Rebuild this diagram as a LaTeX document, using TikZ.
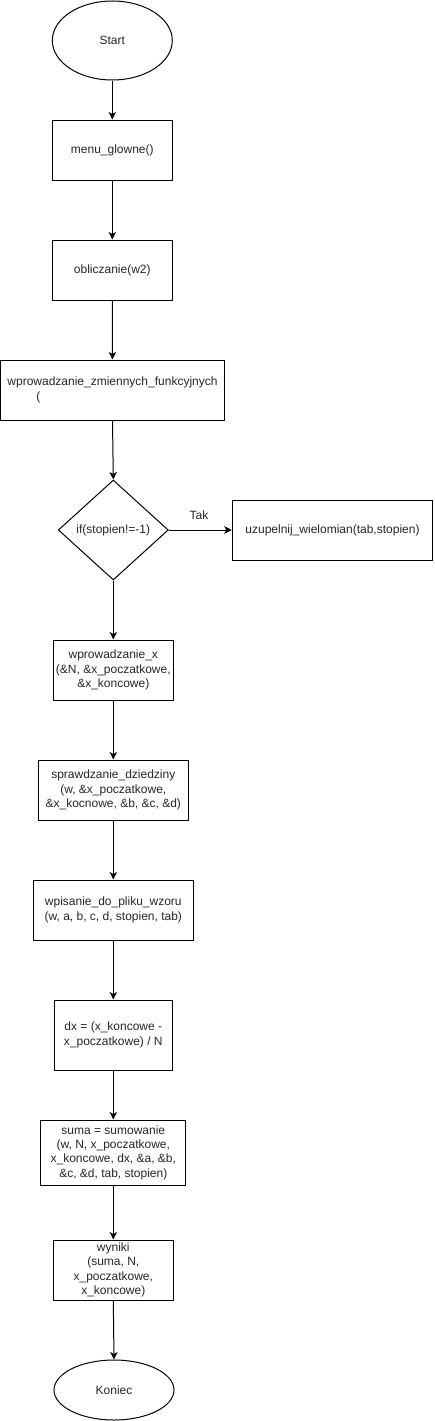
\documentclass[tikz,border=0pt]{standalone}
\usepackage{fontspec}
\setmainfont{Liberation Sans}
\usetikzlibrary{shapes.geometric,arrows.meta}
\begin{document}
\begin{tikzpicture}[x=1pt,y=-1pt,
  every node/.style={font=\fontsize{12}{14.4}\selectfont, text=black!85},
  box/.style={draw=black, line width=1pt, rectangle, inner sep=0pt, align=center},
  term/.style={draw=black, line width=1pt, ellipse, inner sep=0pt, align=center},
  dec/.style={draw=black, line width=1pt, diamond, inner sep=0pt, align=center},
  arr/.style={draw=black, line width=1pt, -{Stealth[length=7.5pt,width=7.5pt,inset=2pt]}}
]
\useasboundingbox (0,0) rectangle (434,1421);
\node[term, minimum width=120, minimum height=79] (start) at (112.3,40.5) {Start};
\node[box, minimum width=120, minimum height=60] (menu) at (112.3,150) {menu\_glowne()};
\node[box, minimum width=120, minimum height=60] (obl) at (112.3,270) {obliczanie(w2)};
\node[box, minimum width=224, minimum height=60, align=left] (wpr) at (112.5,390) {wprowadzanie\_zmiennych\_funkcyjnych\\\hspace*{29pt}(};
\node[dec, minimum width=110, minimum height=100] (if) at (113.3,530) {if(stopien!=-1)};
\node[box, minimum width=200.5, minimum height=60] (uzu) at (332.5,530) {uzupelnij\_wielomian(tab,stopien)};
\node[box, minimum width=120, minimum height=60] (wx) at (113.3,670) {wprowadzanie\_x\\(\&N, \&x\_poczatkowe,\\\&x\_koncowe)};
\node[box, minimum width=150, minimum height=60] (spr) at (113.3,790) {sprawdzanie\_dziedziny\\(w, \&x\_poczatkowe,\\\&x\_kocnowe, \&b, \&c, \&d)};
\node[box, minimum width=160, minimum height=60] (wpis) at (113.3,910) {wpisanie\_do\_pliku\_wzoru\\(w, a, b, c, d, stopien, tab)};
\node[box, minimum width=118, minimum height=70] (dx) at (113.3,1035) {dx = (x\_koncowe -\\x\_poczatkowe) / N};
\node[box, minimum width=145, minimum height=65] (suma) at (113.3,1152.5) {suma = sumowanie\\(w, N, x\_poczatkowe,\\x\_koncowe, dx, \&a, \&b,\\\&c, \&d, tab, stopien)};
\node[box, minimum width=120, minimum height=60] (wyn) at (113.3,1270) {wyniki\\(suma, N,\\x\_poczatkowe,\\x\_koncowe)};
\node[term, minimum width=120, minimum height=60] (kon) at (114,1390) {Koniec};
\node (tak) at (199,515) {Tak};
\draw[arr] (start) -- (menu);
\draw[arr] (menu) -- (obl);
\draw[arr] (obl) -- (wpr);
\draw[arr] (wpr.south) -- (if.north);
\draw[arr] (if.east) -- (uzu.west);
\draw[arr] (if.south) -- (wx.north);
\draw[arr] (wx) -- (spr);
\draw[arr] (spr) -- (wpis);
\draw[arr] (wpis) -- (dx);
\draw[arr] (dx) -- (suma);
\draw[arr] (suma) -- (wyn);
\draw[arr] (wyn.south) -- (kon.north);
\end{tikzpicture}
\end{document}
